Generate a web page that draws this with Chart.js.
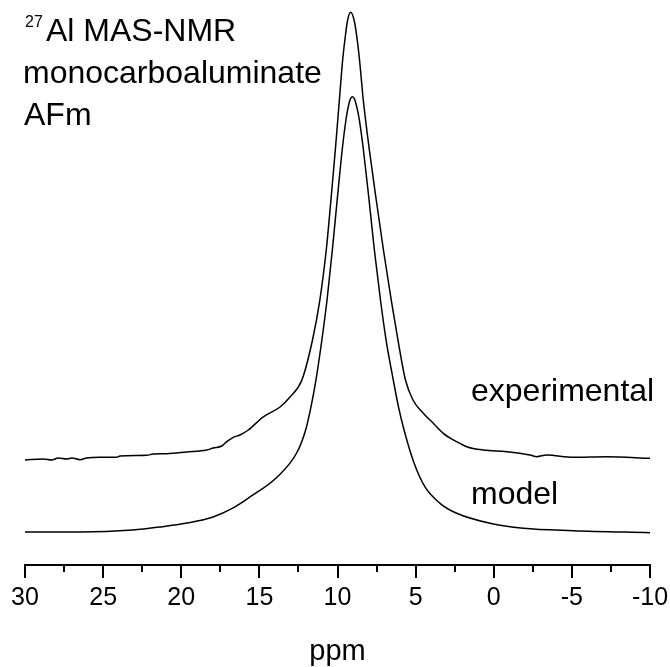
<!DOCTYPE html>
<html>
<head>
<meta charset="utf-8">
<script src="https://cdn.jsdelivr.net/npm/chart.js@4.4.0/dist/chart.umd.min.js"></script>
<style>
  html, body { margin: 0; padding: 0; background: #fff; }
  #wrap { position: relative; width: 670px; height: 667px; }
</style>
</head>
<body>
<div id="wrap"><canvas id="nmr"></canvas></div>
<script>
// 27Al MAS-NMR spectrum, monocarboaluminate AFm (intensity in arbitrary units, experimental trace offset upward)
const expPpm = [30.0, 28.83, 28.29, 27.87, 27.33, 27.01, 26.48, 26.05, 25.2, 24.13, 23.92, 22.21, 21.79, 20.93,
  19.65, 18.37, 17.95, 17.41, 17.09, 16.67, 16.24, 15.71, 14.77, 13.68, 13.04, 12.28, 11.6, 11.13, 10.72, 10.42,
  10.14, 9.88, 9.67, 9.49, 9.35, 9.16, 8.94, 8.78, 8.59, 8.35, 7.96, 7.52, 7.06, 6.56, 6.13, 5.65, 5.17, 4.51,
  3.87, 3.23, 2.37, 1.73, 0.67, -0.83, -2.32, -2.75, -3.39, -5.09, -7.23, -10.0];
const expIntensity = [18.58, 18.76, 18.58, 18.94, 18.76, 18.94, 18.64, 18.94, 19.06, 19.06, 19.29, 19.42, 19.65, 19.7,
  20.0, 20.35, 20.71, 21.06, 21.82, 22.6, 23.0, 23.89, 26.19, 27.96, 29.73, 32.74, 39.82, 46.9, 55.75, 64.6,
  73.45, 82.3, 89.38, 93.81, 96.46, 97.82, 96.46, 93.81, 89.38, 82.3, 73.45, 64.6, 55.75, 46.9, 39.82, 32.74, 29.2, 26.85,
  25.08, 23.31, 21.82, 20.94, 20.35, 20.05, 19.47, 19.17, 19.47, 19.06, 19.17, 18.88];

const modelPpm = [30.0, 26.48, 23.12, 21.36, 19.63, 17.96, 16.68, 15.6, 13.86, 12.58, 12.04, 11.7, 11.38, 11.0,
  10.67, 10.33, 10.02, 9.70, 9.46, 9.31, 9.19, 9.05, 8.90, 8.77, 8.6, 8.34, 7.98, 7.64, 7.25, 6.89, 6.43, 6.10,
  5.74, 5.10, 4.40, 3.44, 2.37, 0.24, -1.89, -5.09, -10.0];
const modelIntensity = [5.84, 5.84, 6.19, 6.73, 7.43, 8.5, 10.1, 12.04, 15.58, 20.0, 23.89, 27.96, 32.74, 39.82,
  46.9, 55.75, 64.6, 73.45, 78.76, 81.12, 82.39, 82.88, 82.39, 81.12, 78.76, 73.45, 64.6, 55.75, 46.9, 39.82, 32.74, 28.02,
  23.89, 18.05, 13.81, 10.92, 9.15, 7.38, 6.5, 6.07, 5.72];

const xTicks = [30, 25, 20, 15, 10, 5, 0, -5, -10];
const xMinorTicks = [27.5, 22.5, 17.5, 12.5, 7.5, 2.5, -2.5, -7.5];
const xTitle = 'ppm';
const titleLines = ['Al MAS-NMR', 'monocarboaluminate', 'AFm'];
const isotope = '27';
const traceLabels = ['experimental', 'model'];

const FONT = '"Liberation Sans", Arial, sans-serif';

const toPoints = (xs, ys) => xs.map((v, i) => ({ x: v, y: ys[i] }));

// minor ticks and the text written on the plot
const extras = {
  id: 'extras',
  afterDraw(chart) {
    const { ctx, chartArea } = chart;
    const x = chart.scales.x;
    ctx.save();
    ctx.strokeStyle = '#000';
    ctx.lineWidth = 2;
    xMinorTicks.forEach((v) => {
      const px = Math.round(x.getPixelForValue(v));
      ctx.beginPath();
      ctx.moveTo(px, chartArea.bottom);
      ctx.lineTo(px, chartArea.bottom + 7);
      ctx.stroke();
    });

    ctx.fillStyle = '#000';
    ctx.textBaseline = 'alphabetic';
    ctx.textAlign = 'left';
    ctx.font = '16px ' + FONT;
    ctx.fillText(isotope, 25, 27);
    ctx.font = '32px ' + FONT;
    ctx.fillText(titleLines[0], 46, 41);
    ctx.fillText(titleLines[1], 23, 83);
    ctx.fillText(titleLines[2], 24, 125);
    ctx.fillText(traceLabels[0], 471, 401);
    ctx.fillText(traceLabels[1], 471, 504);
    ctx.restore();
  },
};

new Chart(document.getElementById('nmr'), {
  type: 'line',
  data: {
    datasets: [
      { label: 'experimental', data: toPoints(expPpm, expIntensity) },
      { label: 'model', data: toPoints(modelPpm, modelIntensity) },
    ],
  },
  options: {
    responsive: true,
    maintainAspectRatio: false,
    animation: false,
    events: [],
    layout: { padding: { left: 25, right: 20, top: 0, bottom: 0 } },
    elements: {
      line: { borderColor: '#000', borderWidth: 1.5, cubicInterpolationMode: 'monotone', fill: false },
      point: { radius: 0 },
    },
    plugins: { legend: { display: false }, tooltip: { enabled: false } },
    scales: {
      x: {
        type: 'linear',
        reverse: true,
        min: -10,
        max: 30,
        afterBuildTicks: (s) => { s.ticks = xTicks.map((v) => ({ value: v })); },
        afterFit: (s) => { s.paddingLeft = 0; s.paddingRight = 0; s.height = 102; },
        border: { display: true, color: '#000', width: 2 },
        grid: { display: true, drawOnChartArea: false, drawTicks: true, tickLength: 13, color: '#000', lineWidth: 2 },
        ticks: {
          color: '#000', padding: 5, maxRotation: 0, autoSkip: false,
          font: { family: FONT, size: 25 },
          callback: (v) => String(v),
        },
        title: {
          display: true, text: xTitle, color: '#000',
          font: { family: FONT, size: 29, lineHeight: 1 },
          padding: { top: 0, bottom: 1 },
        },
      },
      y: { display: false, min: 0, max: 100 },
    },
  },
  plugins: [extras],
});
</script>
</body>
</html>
